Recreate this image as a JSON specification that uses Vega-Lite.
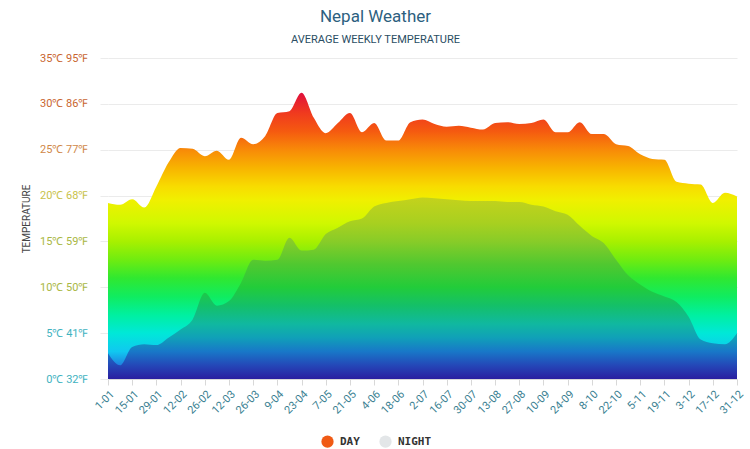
{
  "$schema": "https://vega.github.io/schema/vega-lite/v6.json",
  "width": 629,
  "height": 321,
  "autosize": "none",
  "padding": {"left": 108, "top": 58, "right": 13, "bottom": 70},
  "background": "white",
  "title": {
    "text": "Nepal Weather",
    "subtitle": "AVERAGE WEEKLY TEMPERATURE",
    "anchor": "middle",
    "dx": -47,
    "offset": 6,
    "font": "Roboto",
    "fontSize": 17,
    "fontWeight": "normal",
    "color": "#2d5f7f",
    "subtitleFont": "Roboto",
    "subtitleFontSize": 11,
    "subtitleColor": "#2a4d63",
    "subtitlePadding": 8
  },
  "config": {
    "view": {"stroke": null},
    "font": "Roboto"
  },
  "datasets": {
    "weeks": [
      {"week": "1-01", "day": 19.2, "night": 2.8},
      {"week": "8-01", "day": 19.0, "night": 1.5},
      {"week": "15-01", "day": 19.6, "night": 3.5},
      {"week": "22-01", "day": 18.7, "night": 3.8},
      {"week": "29-01", "day": 21.0, "night": 3.7},
      {"week": "5-02", "day": 23.6, "night": 4.5},
      {"week": "12-02", "day": 25.2, "night": 5.4},
      {"week": "19-02", "day": 25.1, "night": 6.5},
      {"week": "26-02", "day": 24.3, "night": 9.4},
      {"week": "5-03", "day": 24.9, "night": 8.0},
      {"week": "12-03", "day": 23.9, "night": 8.5},
      {"week": "19-03", "day": 26.3, "night": 10.5},
      {"week": "26-03", "day": 25.6, "night": 13.0},
      {"week": "2-04", "day": 26.5, "night": 12.9},
      {"week": "9-04", "day": 29.0, "night": 13.0},
      {"week": "16-04", "day": 29.2, "night": 15.4},
      {"week": "23-04", "day": 31.2, "night": 14.0},
      {"week": "30-04", "day": 28.5, "night": 14.1},
      {"week": "7-05", "day": 26.8, "night": 15.8},
      {"week": "14-05", "day": 27.9, "night": 16.5},
      {"week": "21-05", "day": 29.0, "night": 17.2},
      {"week": "28-05", "day": 26.9, "night": 17.5},
      {"week": "4-06", "day": 27.9, "night": 18.8},
      {"week": "11-06", "day": 26.0, "night": 19.2},
      {"week": "18-06", "day": 26.0, "night": 19.4},
      {"week": "25-06", "day": 28.0, "night": 19.6},
      {"week": "2-07", "day": 28.3, "night": 19.8},
      {"week": "9-07", "day": 27.8, "night": 19.7},
      {"week": "16-07", "day": 27.5, "night": 19.6},
      {"week": "23-07", "day": 27.6, "night": 19.5},
      {"week": "30-07", "day": 27.4, "night": 19.4},
      {"week": "6-08", "day": 27.2, "night": 19.4},
      {"week": "13-08", "day": 27.9, "night": 19.4},
      {"week": "20-08", "day": 28.0, "night": 19.3},
      {"week": "27-08", "day": 27.8, "night": 19.3},
      {"week": "3-09", "day": 27.9, "night": 19.0},
      {"week": "10-09", "day": 28.3, "night": 18.8},
      {"week": "17-09", "day": 26.9, "night": 18.3},
      {"week": "24-09", "day": 26.9, "night": 17.9},
      {"week": "1-10", "day": 28.0, "night": 16.7},
      {"week": "8-10", "day": 26.7, "night": 15.6},
      {"week": "15-10", "day": 26.7, "night": 14.8},
      {"week": "22-10", "day": 25.6, "night": 13.0},
      {"week": "29-10", "day": 25.4, "night": 11.3},
      {"week": "5-11", "day": 24.5, "night": 10.3},
      {"week": "12-11", "day": 24.0, "night": 9.5},
      {"week": "19-11", "day": 23.9, "night": 9.0},
      {"week": "26-11", "day": 21.5, "night": 8.4},
      {"week": "3-12", "day": 21.3, "night": 6.8},
      {"week": "10-12", "day": 21.2, "night": 4.3},
      {"week": "17-12", "day": 19.2, "night": 3.9},
      {"week": "24-12", "day": 20.3, "night": 3.8},
      {"week": "31-12", "day": 19.9, "night": 5.0}
    ],
    "series": [
      {"series": "DAY"},
      {"series": "NIGHT"}
    ]
  },
  "data": {"name": "weeks"},
  "encoding": {
    "x": {
      "field": "week",
      "type": "ordinal",
      "sort": null,
      "scale": {"type": "point", "padding": 0},
      "axis": {
        "title": null,
        "values": ["1-01","15-01","29-01","12-02","26-02","12-03","26-03","9-04","23-04","7-05","21-05","4-06","18-06","2-07","16-07","30-07","13-08","27-08","10-09","24-09","8-10","22-10","5-11","19-11","3-12","17-12","31-12"],
        "labelAngle": -45,
        "labelAlign": "right",
        "labelBaseline": "top",
        "labelFontSize": 11,
        "labelColor": "#3a7f92",
        "labelPadding": 3,
        "tickColor": "#d8d8d8",
        "tickSize": 6,
        "domainColor": "#d8d8d8",
        "grid": false
      }
    }
  },
  "layer": [
    {
      "mark": {
        "type": "area",
        "interpolate": "monotone",
        "color": {
          "gradient": "linear",
          "x1": 0, "y1": 0, "x2": 0, "y2": 1,
          "stops": [
            {"offset": 0, "color": "#e0103c"},
            {"offset": 0.0705, "color": "#f03a1e"},
            {"offset": 0.1346, "color": "#f55a10"},
            {"offset": 0.1987, "color": "#f88a08"},
            {"offset": 0.2628, "color": "#f8b400"},
            {"offset": 0.327, "color": "#f8dc00"},
            {"offset": 0.375, "color": "#f0f000"},
            {"offset": 0.455, "color": "#d0f800"},
            {"offset": 0.519, "color": "#a8f000"},
            {"offset": 0.583, "color": "#70ec10"},
            {"offset": 0.647, "color": "#30e830"},
            {"offset": 0.712, "color": "#10ec60"},
            {"offset": 0.776, "color": "#00f0a0"},
            {"offset": 0.84, "color": "#00e8d8"},
            {"offset": 0.904, "color": "#10c8f0"},
            {"offset": 0.952, "color": "#2080e0"},
            {"offset": 1, "color": "#3040c0"}
          ]
        }
      },
      "encoding": {
        "y": {
          "field": "day",
          "type": "quantitative",
          "scale": {"domain": [0, 35], "nice": false},
          "axis": {
            "title": "TEMPERATURE",
            "titleFont": "Roboto",
            "titleFontSize": 10,
            "titleFontWeight": "normal",
            "titleColor": "#444444",
            "titlePadding": 8,
            "values": [0, 5, 10, 15, 20, 25, 30, 35],
            "labelExpr": "datum.value + '℃ ' + round(datum.value * 9 / 5 + 32) + '℉'",
            "labelFontSize": 11,
            "labelPadding": 12,
            "labelColor": {
              "condition": [
                {"test": "datum.value >= 30", "value": "#c9652f"},
                {"test": "datum.value >= 25", "value": "#d08848"},
                {"test": "datum.value >= 20", "value": "#c8c24a"},
                {"test": "datum.value >= 10", "value": "#a9b743"}
              ],
              "value": "#3fb3bf"
            },
            "domain": false,
            "ticks": true,
            "tickSize": 8,
            "tickColor": "#ebebeb",
            "gridColor": "#ebebeb",
            "grid": true
          }
        }
      }
    },
    {
      "mark": {
        "type": "area",
        "interpolate": "monotone",
        "color": {
          "gradient": "linear",
          "x1": 0, "y1": 0, "x2": 0, "y2": 1,
          "stops": [
            {"offset": 0, "color": "#c4d21c"},
            {"offset": 0.141, "color": "#a8d020"},
            {"offset": 0.242, "color": "#88cc28"},
            {"offset": 0.369, "color": "#50c830"},
            {"offset": 0.495, "color": "#22cc3a"},
            {"offset": 0.596, "color": "#14c068"},
            {"offset": 0.697, "color": "#10b8a0"},
            {"offset": 0.773, "color": "#10a0b8"},
            {"offset": 0.848, "color": "#1878c8"},
            {"offset": 0.924, "color": "#2448b8"},
            {"offset": 1, "color": "#2a1ea0"}
          ]
        }
      },
      "encoding": {
        "y": {"field": "night", "type": "quantitative"}
      }
    },
    {
      "data": {"name": "series"},
      "mark": {"type": "point", "filled": true, "opacity": 0},
      "encoding": {
        "x": null,
        "color": {
          "field": "series",
          "type": "nominal",
          "scale": {"domain": ["DAY", "NIGHT"], "range": ["#f05a14", "#e3e6e8"]},
          "legend": {
            "title": null,
            "orient": "none",
            "direction": "horizontal",
            "legendX": 213,
            "legendY": 377,
            "symbolType": "circle",
            "symbolSize": 150,
            "symbolOpacity": 1,
            "symbolStrokeWidth": 0,
            "labelFont": "DejaVu Sans Mono",
            "labelFontWeight": "bold",
            "labelFontSize": 11,
            "labelColor": "#333333",
            "labelOffset": 6,
            "columnPadding": 19
          }
        }
      }
    }
  ]
}
